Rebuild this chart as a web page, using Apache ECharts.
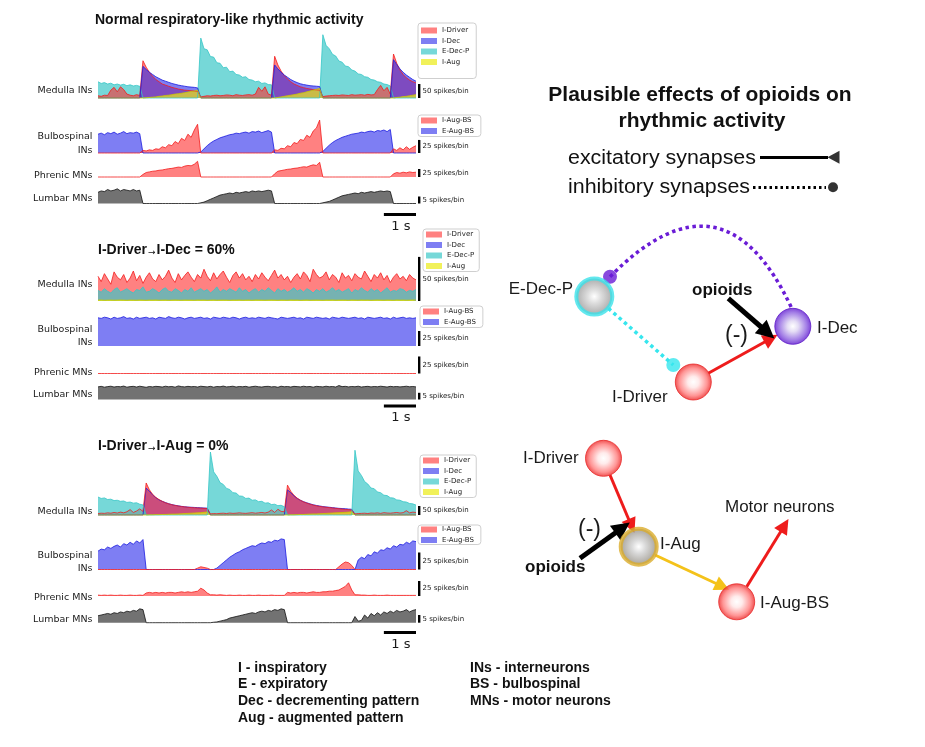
<!DOCTYPE html>
<html>
<head>
<meta charset="utf-8">
<script src="https://cdn.jsdelivr.net/npm/echarts@6/dist/echarts.min.js"></script>
<style>
  html, body { margin: 0; padding: 0; background: #fff; }
  #chart { width: 925px; height: 747px; }
</style>
</head>
<body>
<div id="chart"></div>
<script>
// spike counts per 0.1 s bin (100 bins per trace)
const BIN_S = 0.1;

// ---- panel 1: normal respiratory-like rhythm ----
const P1_EDECP = [
  58,52,55,50,53,47,50,46,49,44,
  47,43,45,42,0,0,0,0,0,0,
  0,0,0,0,0,0,0,0,0,0,
  0,0,214,176,172,148,146,126,124,108,
  110,94,96,84,82,74,76,66,64,58,
  60,52,54,48,47,0,0,0,0,0,
  0,0,0,0,0,0,0,0,0,0,
  226,188,176,156,150,132,128,114,112,100,
  96,86,84,76,74,66,64,58,56,50,
  48,43,0,0,0,0,0,0,0,0];
const P1_IDRIVER = [
  8,6,10,9,28,38,22,40,30,14,
  10,8,12,9,133,110,92,78,66,58,
  50,46,42,38,35,32,30,28,27,26,
  25,24,4,6,8,7,9,10,8,9,
  11,10,8,12,10,9,11,12,10,14,
  38,24,40,14,10,149,118,96,80,68,
  58,50,45,40,37,34,32,30,29,28,
  5,7,8,9,10,9,11,10,9,12,
  10,11,12,10,13,11,12,30,45,26,
  38,14,157,124,100,84,72,64,58,54];
const P1_IDEC = [
  0,0,0,0,0,0,0,0,0,0,
  0,0,0,0,113,102,92,84,76,70,
  64,60,56,52,49,46,44,42,40,39,
  38,36,0,0,0,0,0,0,0,0,
  0,0,0,0,0,0,0,0,0,0,
  0,0,0,0,0,118,104,92,82,74,
  66,60,55,51,48,46,44,43,42,41,
  0,0,0,0,0,0,0,0,0,0,
  0,0,0,0,0,0,0,0,0,0,
  0,0,137,120,104,92,82,74,66,60];
const P1_IAUG = [
  0,0,0,0,0,0,0,0,0,0,
  0,0,0,0,0,1,2,3,4,6,
  7,9,10,12,14,15,17,19,21,23,
  25,28,0,0,0,0,0,0,0,0,
  0,0,0,0,0,0,0,0,0,0,
  0,0,0,0,0,0,2,4,6,8,
  10,12,14,17,19,22,25,28,31,34,
  0,0,0,0,0,0,0,0,0,0,
  0,0,0,0,0,0,0,0,0,0,
  0,0,0,2,3,5,6,8,10,12];
const P1_EAUGBS = [
  36,38,35,39,37,40,36,38,41,37,
  39,38,40,37,0,0,0,0,0,0,
  0,0,0,0,0,0,0,0,0,0,
  0,0,2,8,14,19,23,26,29,31,
  33,35,36,38,37,39,40,38,41,40,
  42,39,41,43,40,0,0,0,0,0,
  0,0,0,0,0,0,0,0,0,0,
  3,9,15,20,24,27,30,32,34,36,
  37,38,40,39,41,42,40,43,42,44,
  41,45,0,0,0,0,0,0,0,0];
const P1_IAUGBS = [
  0,0,0,0,0,0,0,0,0,0,
  0,0,0,0,5,4,6,5,8,7,
  12,10,16,14,22,18,28,24,36,30,
  44,55,0,0,0,0,0,0,0,0,
  0,0,0,0,0,0,0,0,0,0,
  0,0,0,0,0,6,5,9,8,14,
  12,20,18,26,24,34,30,42,48,63,
  0,0,0,0,0,0,0,0,0,0,
  0,0,0,0,0,0,0,0,0,0,
  0,0,8,5,10,6,12,7,11,14];
const P1_PHRENIC = [
  0,0,0,0,0,0,0,0,0,0,
  0,0,0,0,8,14,16,18,19,21,
  22,24,26,27,29,31,30,34,36,35,
  40,49,0,0,0,0,0,0,0,0,
  0,0,0,0,0,0,0,0,0,0,
  0,0,0,0,0,10,18,20,22,24,
  25,27,28,30,32,31,35,38,36,46,
  0,0,0,0,0,0,0,0,0,0,
  0,0,0,0,0,0,0,0,0,0,
  0,0,10,14,12,15,13,16,14,15];
const P1_LUMBAR = [
  8,9,8.5,10,9,9.5,10.5,9,10,9.5,
  9,10,9,9.5,0,0,0,0,0,0,
  0,0,0,0,0,0,0,0,0,0,
  0,0,0.5,1,2,3,4,5,6,6.5,
  7,7.5,7,8,7.5,8,8.5,8,9,8.5,
  9,8.5,9,9.5,9,0,0,0,0,0,
  0,0,0,0,0,0,0,0,0,0,
  0.5,1,1.5,2.5,3.5,4.5,5.5,6,6.5,7,
  7.5,7,8,7.5,8,8.5,8,8.5,9,8.5,
  9,8.5,0,0,0,0,0,0,0,0];

// ---- panel 2: I-Driver -> I-Dec = 60% ----
const P2_IDRIVER = [
  28,22,31,25,19,33,27,24,30,21,
  26,34,23,29,20,27,32,25,22,30,
  24,28,35,26,21,31,24,29,33,27,
  22,30,26,36,28,23,32,25,30,34,
  27,21,29,33,26,31,24,28,22,30,
  25,32,27,23,29,35,26,30,24,28,
  21,27,31,25,33,29,22,36,30,26,
  28,33,24,30,27,21,32,26,29,23,
  31,27,25,34,28,22,30,26,32,24,
  29,21,27,31,25,28,23,30,26,24];
const P2_EDECP = [
  12,10,14,11,9,13,15,10,12,14,
  11,9,13,12,16,10,11,14,12,9,
  13,15,11,10,14,12,9,13,11,15,
  10,12,14,11,13,9,12,16,10,13,
  11,14,12,10,15,11,13,9,12,14,
  10,13,11,15,12,9,14,11,13,10,
  12,15,11,13,10,14,12,9,13,11,
  14,10,12,15,11,13,10,12,14,9,
  13,11,15,12,10,14,11,13,9,12,
  15,10,12,11,14,13,10,12,11,13];
const P2_IAUG = [
  1,1.2,0.8,1,1.1,0.9,1,1.2,1,0.8,
  1.1,1,0.9,1.2,1,0.8,1.1,1,1.2,0.9,
  1,1.1,0.8,1,1.2,1,0.9,1.1,1,1,
  0.9,1.2,1,1.1,0.8,1,1.2,0.9,1,1.1,
  1,0.8,1.1,1,1.2,0.9,1,1.1,0.8,1.2,
  1.1,1,0.9,1,1.2,1,0.8,1.1,1,0.9,
  1.2,1,1.1,0.8,1,1.2,0.9,1,1.1,1,
  0.8,1.1,1,1.2,0.9,1,1.1,1,0.8,1.2,
  1,0.9,1.2,1,1.1,0.8,1,1.2,1,0.9,
  1.1,1,0.8,1.2,1,1.1,0.9,1,1.2,1];
const P2_EAUGBS = [
  47,46,48,47,45,48,46,47,49,46,
  47,45,48,46,47,48,46,47,45,48,
  47,46,49,47,46,48,47,45,47,48,
  46,47,48,46,47,45,48,47,46,48,
  47,46,48,47,45,47,48,46,47,46,
  48,47,46,48,47,46,45,48,47,46,
  47,48,46,47,45,48,47,46,48,47,
  46,47,45,48,47,46,48,47,46,47,
  48,46,47,45,48,47,46,47,48,46,
  47,45,48,46,47,48,46,47,46,47];
const P2_PHRENIC = [
  0,0,0,0,0,0,0,0,0,0,
  0,0,0,0,0,0,0,0,0,0,
  0,0,0,0,0,0,0,0,0,0,
  0,0,0,0,0,0,0,0,0,0,
  0,0,0,0,0,0,0,0,0,0,
  0,0,0,0,0,0,0,0,0,0,
  0,0,0,0,0,0,0,0,0,0,
  0,0,0,0,0,0,0,0,0,0,
  0,0,0,0,0,0,0,0,0,0,
  0,0,0,0,0,0,0,0,0,0];
const P2_LUMBAR = [
  9.4,9.8,9.2,9.6,9.9,9.3,9.7,9.5,10.0,9.2,
  9.6,9.8,9.3,9.9,9.5,9.1,9.7,9.4,9.8,9.6,
  9.3,9.9,9.5,9.7,9.2,10.1,9.6,9.4,9.8,9.5,
  9.7,9.3,9.9,9.6,9.4,9.8,9.2,9.7,9.5,10.0,
  9.4,9.6,9.9,9.3,9.7,9.5,9.8,9.2,9.6,9.9,
  9.5,9.3,9.7,9.8,9.4,9.6,9.1,9.9,9.5,9.7,
  9.3,9.8,9.6,9.4,9.9,9.5,9.7,9.2,9.8,9.6,
  9.4,9.9,9.5,9.7,9.3,10.4,9.6,9.8,9.4,9.7,
  9.5,9.9,9.3,9.6,9.8,9.4,9.7,9.5,9.9,9.6,
  9.3,9.8,9.5,9.7,9.4,9.6,9.9,9.5,9.7,9.4];

// ---- panel 3: I-Driver -> I-Aug = 0% ----
const P3_EDECP = [
  100,92,95,86,88,80,82,76,78,70,
  72,66,68,60,56,0,0,0,0,0,
  0,0,0,0,0,0,0,0,0,0,
  0,0,0,0,0,350,240,215,180,170,
  148,142,124,122,106,104,92,94,82,84,
  74,76,66,68,58,60,52,54,46,0,
  0,0,0,0,0,0,0,0,0,0,
  0,0,0,0,0,0,0,0,0,0,
  360,245,220,186,172,150,146,128,124,110,
  108,96,94,84,82,74,72,64,62,55];
const P3_IDRIVER = [
  8,10,9,12,10,14,11,16,12,18,
  30,14,22,34,20,178,140,115,98,86,
  76,68,62,57,53,50,47,45,43,41,
  40,39,38,37,36,6,8,7,9,10,
  8,11,9,10,12,10,9,11,13,10,
  12,14,11,16,28,14,32,20,18,166,
  132,110,94,82,73,66,60,55,51,48,
  45,43,41,39,37,35,33,31,30,28,
  6,8,9,10,8,11,10,12,9,13,
  11,10,12,14,11,13,24,12,16,14];
const P3_IDEC = [
  0,0,0,0,0,0,0,0,0,0,
  0,0,0,0,0,150,132,112,96,84,
  76,69,63,58,54,51,48,46,44,43,
  42,41,40,39,38,0,0,0,0,0,
  0,0,0,0,0,0,0,0,0,0,
  0,0,0,0,0,0,0,0,0,140,
  124,106,92,82,74,68,62,57,53,50,
  47,45,43,41,39,37,36,35,33,32,
  0,0,0,0,0,0,0,0,0,0,
  0,0,0,0,0,0,0,0,0,0];
const P3_IAUG = [
  0,0,0,0,0,0,0,0,0,0,
  0,0,0,0,0,0,1,1,2,2,
  3,3,4,5,5,6,7,8,9,10,
  11,12,13,15,17,0,0,0,0,0,
  0,0,0,0,0,0,0,0,0,0,
  0,0,0,0,0,0,0,0,0,0,
  1,1,2,3,3,4,5,6,6,7,
  8,9,10,11,12,13,14,15,16,18,
  0,0,0,0,0,0,0,0,0,0,
  0,0,0,0,0,0,0,0,0,0];
const P3_EAUGBS = [
  27,30,29,33,31,34,36,33,38,36,
  40,37,42,39,44,0,0,0,0,0,
  0,0,0,0,0,0,0,0,0,0,
  0,0,0,0,0,0,0,2,6,10,
  14,18,21,24,26,29,31,33,35,34,
  37,39,38,41,40,43,42,45,44,0,
  0,0,0,0,0,0,0,0,0,0,
  0,0,0,0,0,0,0,0,0,0,
  0,14,18,16,22,20,26,24,29,28,
  32,30,35,33,37,36,40,38,42,41];
const P3_IAUGBS = [
  0,0,0,0,0,0,0,0,0,0,
  0,0,0,0,0,0,0,0,0,0,
  0,0,0,0,0,0,0,0,0,0,
  0,2,4,3,2,0,0,0,0,0,
  0,0,0,0,0,0,0,0,0,0,
  0,0,0,0,0,0,0,0,0,0,
  0,0,0,0,0,0,0,0,0,0,
  0,0,0,0,0,4,8,11,10,6,
  0,0,0,0,0,0,0,0,0,0,
  0,0,0,0,0,0,0,0,0,0];
const P3_PHRENIC = [
  1.5,1,1.5,1,1.5,1,1,1.5,1,1,
  1.5,1,1,1.5,1,5,6,5,6,5,
  6,5,6,6,5,6,7,6,7,6,
  7,8,13,10,5,2,2,1.5,2,1.5,
  1,1.5,1,1,1.5,1,1,1.5,1,1,
  1.5,1,1,1,1.5,1,1,1,1,6,
  5,6,5,6,6,5,6,7,6,6,
  7,7,8,8,9,10,13,16,22,10,
  2,2,1.5,1.5,1,1,1.5,1,1,1,
  1.5,1,1,1,1,1,1,1,1,1];
const P3_LUMBAR = [
  4.5,5,5.5,6,5.5,6.5,6,7,6.5,7.5,
  7,8,7.5,9,8.5,0,0,0,0,0,
  0,0,0,0,0,0,0,0,0,0,
  0,0,0,0,0,0,0.3,0.5,1,1.5,
  2,3,3.5,4,4.5,5,5.5,6,6.5,6,
  7,7.5,7,8,7.5,8.5,8,9,8.5,0,
  0,0,0,0,0,0,0,0,0,0,
  0,0,0,0,0,0,0,0,0,0,
  4,1,1.5,5,3,6,4.5,6.5,5,7,
  6,7.5,6.5,8,7,7.5,8.5,7,8,8.5];

const MEDULLA_NAMES = ["I-Driver", "I-Dec", "E-Dec-P", "I-Aug"];
const BULBO_NAMES = ["I-Aug-BS", "E-Aug-BS"];

// ---- network schematic (diagram units) ----
const NODES = [
  { name: "E-Dec-P", x: 104.3, y: 156.5, kind: "edecp" },
  { name: "I-Dec", x: 302.8, y: 186.3, kind: "idec" },
  { name: "I-Driver", x: 203.3, y: 242, kind: "red" },
  { name: "I-Driver", x: 113.5, y: 318.3, kind: "red" },
  { name: "I-Aug", x: 148.7, y: 406.7, kind: "iaug" },
  { name: "I-Aug-BS", x: 246.7, y: 461.8, kind: "red" },
];
const EXC_EDGES = [
  [218.3, 233.3, 281, 198.5, "#ee1c1c"],
  [120, 335, 141.5, 386, "#ee1c1c"],
  [165, 415, 232.5, 446.5, "#f4c21a"],
  [256.7, 446.7, 294.5, 385.5, "#ee1c1c"],
];
const OPIOID_EDGES = [
  [238.3, 158.3, 277.5, 192.5],
  [90, 418.3, 132.5, 387.8],
];
const INH_EDGES = [
  [118.3, 168.3, 183.3, 225, "#36e6ee", 0],
  [120, 136.7, 301.7, 168.3, "#6a1cd6", 0.72],
];
const INH_ENDS = [
  [183.3, 225, "#36e6ee"],
  [120, 136.7, "#6a1cd6"],
];

// ---------------- layout ----------------
const TRACE_LEFT = 98, TRACE_WIDTH = 318, T_MAX = 9.9;
const PX_PER_S = TRACE_WIDTH / T_MAX;
const TRACE_GRIDS = [
  { top: 28, h: 70, max: 250, bar: 50 },
  { top: 118, h: 35, max: 67, bar: 25 },
  { top: 157, h: 20, max: 62.5, bar: 25 },
  { top: 183.5, h: 20, max: 14.3, bar: 5 },
  { top: 256, h: 45, max: 51, bar: 50 },
  { top: 310, h: 36, max: 60, bar: 25 },
  { top: 356, h: 17.5, max: 25.7, bar: 25 },
  { top: 383, h: 16.5, max: 12.3, bar: 5 },
  { top: 447, h: 68, max: 378, bar: 50 },
  { top: 535, h: 34.5, max: 50.7, bar: 25 },
  { top: 579, h: 17, max: 28.3, bar: 25 },
  { top: 605, h: 17.7, max: 11.5, bar: 5 },
];
const DIAG = TRACE_GRIDS.length;

const COLORS = {
  "I-Driver": ["rgba(255,45,45,0.6)", "#f21c1c"],
  "I-Dec": ["rgba(40,40,235,0.6)", "#1a1ae0"],
  "E-Dec-P": ["rgba(60,200,200,0.7)", "#35c6c6"],
  "I-Aug": ["rgba(235,235,20,0.7)", "#c8c800"],
  "I-Aug-BS": ["rgba(255,45,45,0.6)", "#f21c1c"],
  "E-Aug-BS": ["rgba(40,40,235,0.6)", "#1a1ae0"],
  Phrenic: ["rgba(255,45,45,0.6)", "#f21c1c"],
  Lumbar: ["rgba(20,20,20,0.6)", "#111111"],
};

const series = [];
function trace(name, gi, vals) {
  const [fill, stroke] = COLORS[name];
  series.push({
    type: "line",
    name,
    xAxisIndex: gi,
    yAxisIndex: gi,
    symbol: "none",
    silent: true,
    clip: false,
    data: vals.map((v, i) => [Math.round(i * BIN_S * 10) / 10, v]),
    lineStyle: { color: stroke, width: 0.8 },
    areaStyle: { color: fill, opacity: 1 },
    itemStyle: { color: fill },
  });
}

trace("E-Dec-P", 0, P1_EDECP);
trace("I-Driver", 0, P1_IDRIVER);
trace("I-Dec", 0, P1_IDEC);
trace("I-Aug", 0, P1_IAUG);
trace("E-Aug-BS", 1, P1_EAUGBS);
trace("I-Aug-BS", 1, P1_IAUGBS);
trace("Phrenic", 2, P1_PHRENIC);
trace("Lumbar", 3, P1_LUMBAR);

trace("I-Driver", 4, P2_IDRIVER);
trace("E-Dec-P", 4, P2_EDECP);
trace("I-Aug", 4, P2_IAUG);
trace("E-Aug-BS", 5, P2_EAUGBS);
trace("Phrenic", 6, P2_PHRENIC);
trace("Lumbar", 7, P2_LUMBAR);

trace("I-Dec", 8, P3_IDEC);
trace("I-Driver", 8, P3_IDRIVER);
trace("E-Dec-P", 8, P3_EDECP);
trace("I-Aug", 8, P3_IAUG);
trace("E-Aug-BS", 9, P3_EAUGBS);
trace("I-Aug-BS", 9, P3_IAUGBS);
trace("Phrenic", 10, P3_PHRENIC);
trace("Lumbar", 11, P3_LUMBAR);

// ---- schematic series ----
function radial(stops) {
  return { type: "radial", x: 0.5, y: 0.5, r: 0.5, colorStops: stops.map(([o, c]) => ({ offset: o, color: c })) };
}
const NODE_STYLE = {
  red: { color: radial([[0, "#ffffff"], [0.3, "#ffe6e6"], [0.75, "#ff7a7a"], [1, "#ea2020"]]), borderColor: "#e82a2a", borderWidth: 1 },
  idec: { color: radial([[0, "#ffffff"], [0.3, "#ddd3f2"], [0.75, "#8c5ee0"], [1, "#5a12cc"]]), borderColor: "#5c18c8", borderWidth: 1 },
  edecp: { color: radial([[0, "#ffffff"], [0.35, "#d4d4d4"], [1, "#8e8e8e"]]), borderColor: "#3ce2ea", borderWidth: 4 },
  iaug: { color: radial([[0, "#ffffff"], [0.35, "#cfcfcf"], [1, "#8a8478"]]), borderColor: "#dbad2c", borderWidth: 4 },
};
const diagAxes = { xAxisIndex: DIAG, yAxisIndex: DIAG, silent: true };

series.push({
  type: "lines", coordinateSystem: "cartesian2d", ...diagAxes, z: 3,
  symbol: ["none", "triangle"], symbolSize: 15,
  data: EXC_EDGES.map(([x1, y1, x2, y2, c]) => ({ coords: [[x1, y1], [x2, y2]], lineStyle: { color: c, width: 3 }, itemStyle: { color: c } })),
  lineStyle: { width: 3, opacity: 1 },
});
series.push({
  type: "lines", coordinateSystem: "cartesian2d", ...diagAxes, z: 3,
  symbol: ["none", "triangle"], symbolSize: 18,
  data: OPIOID_EDGES.map(([x1, y1, x2, y2]) => ({ coords: [[x1, y1], [x2, y2]] })),
  lineStyle: { width: 5, color: "#000", opacity: 1 },
});
series.push({
  type: "lines", coordinateSystem: "cartesian2d", ...diagAxes, z: 3,
  symbol: "none",
  data: INH_EDGES.map(([x1, y1, x2, y2, c, cv]) => ({ coords: [[x1, y1], [x2, y2]], lineStyle: { color: c, curveness: cv } })),
  lineStyle: { width: 3.5, type: [3.5, 3.5], opacity: 1 },
});
// synapse legend lines
series.push({
  type: "lines", coordinateSystem: "cartesian2d", ...diagAxes, z: 3, symbol: "none",
  data: [
    { coords: [[270, 17.3], [338, 17.3]], lineStyle: { type: "solid" } },
    { coords: [[263, 47.3], [336, 47.3]], lineStyle: { type: [2.5, 3] } },
  ],
  lineStyle: { width: 3, color: "#000", opacity: 1 },
});
series.push({
  type: "scatter", ...diagAxes, z: 4,
  data: [
    ...INH_ENDS.map(([x, y, c]) => ({ value: [x, y], symbolSize: 14, itemStyle: { color: c } })),
    { value: [343, 47.3], symbolSize: 10, itemStyle: { color: "#000" } },
    { value: [343.5, 17.3], symbol: "triangle", symbolRotate: 90, symbolSize: [13, 12], itemStyle: { color: "#000" } },
  ],
});
series.push({
  type: "scatter", ...diagAxes, z: 5, symbolSize: 36,
  data: NODES.map((n) => ({ value: [n.x, n.y], itemStyle: NODE_STYLE[n.kind] })),
});

// ---- grids / axes ----
const grid = TRACE_GRIDS.map((g) => ({ left: TRACE_LEFT, width: TRACE_WIDTH, top: g.top, height: g.h }));
grid.push({ left: 490, top: 140, width: 400, height: 500 });
const xAxis = TRACE_GRIDS.map((g, i) => ({ type: "value", gridIndex: i, min: 0, max: T_MAX, show: false }));
xAxis.push({ type: "value", gridIndex: DIAG, min: 0, max: 400, show: false });
const yAxis = TRACE_GRIDS.map((g, i) => ({ type: "value", gridIndex: i, min: 0, max: g.max, show: false }));
yAxis.push({ type: "value", gridIndex: DIAG, min: 0, max: 500, inverse: true, show: false });

// ---- legends ----
function legendBox(names, left, top, padding) {
  return {
    orient: "vertical", left, top, padding, data: names, icon: "rect",
    itemWidth: 16, itemHeight: 6, itemGap: 3.5, selectedMode: false,
    borderColor: "#cfcfcf", borderWidth: 1, borderRadius: 3, backgroundColor: "#fff",
    textStyle: { fontSize: 7, fontFamily: "DejaVu Sans", color: "#222" },
  };
}
const legend = [
  legendBox(MEDULLA_NAMES, 418, 23, [4, 7, 13, 3]),
  legendBox(BULBO_NAMES, 418, 115, [2, 7, 2, 3]),
  legendBox(MEDULLA_NAMES, 423, 229, [2, 5, 2, 3]),
  legendBox(BULBO_NAMES, 420, 306, [2, 7, 2, 3]),
  legendBox(MEDULLA_NAMES, 420, 455, [2, 5, 2, 3]),
  legendBox(BULBO_NAMES, 418, 525, [1, 7, 1, 3]),
];

// ---- text / scale bars ----
const graphic = [];
function txt(x, y, text, size, o = {}) {
  graphic.push({
    type: "text", x, y, silent: true, scaleX: o.sx || 1, z: 10,
    style: {
      text, fontSize: size, fontFamily: o.family || "Liberation Sans", fontWeight: o.bold ? "bold" : "normal",
      fill: o.color || "#1a1a1a", align: o.align || "left", textAlign: o.align || "left",
      verticalAlign: "middle", textVerticalAlign: "middle", rich: o.rich,
    },
  });
}

TRACE_GRIDS.forEach((g) => {
  const hb = (g.bar / g.max) * g.h;
  const base = g.top + g.h;
  graphic.push({ type: "rect", silent: true, shape: { x: 418, y: base - hb, width: 2.4, height: hb }, style: { fill: "#000" } });
  txt(422.5, base - hb / 2, g.bar + " spikes/bin", 7, { family: "DejaVu Sans" });
});
[214.5, 406, 632.5].forEach((y) => {
  const x1 = TRACE_LEFT + TRACE_WIDTH - PX_PER_S;
  graphic.push({ type: "rect", silent: true, shape: { x: x1, y: y - 1.4, width: PX_PER_S, height: 2.8 }, style: { fill: "#000" } });
  txt(x1 + PX_PER_S / 2 + 1, y + 12, "1 s", 13, { family: "DejaVu Sans", align: "center" });
});

const ROW_LABELS = [
  ["Medulla INs", 91], ["Bulbospinal", 137], ["INs", 150.5], ["Phrenic MNs", 175.5], ["Lumbar MNs", 199],
  ["Medulla INs", 285], ["Bulbospinal", 330], ["INs", 343], ["Phrenic MNs", 372.5], ["Lumbar MNs", 395],
  ["Medulla INs", 511.5], ["Bulbospinal", 556], ["INs", 569], ["Phrenic MNs", 597.5], ["Lumbar MNs", 620],
];
ROW_LABELS.forEach(([t, y]) => txt(92.5, y, t, 9.5, { family: "DejaVu Sans", align: "right" }));

txt(95, 20, "Normal respiratory-like rhythmic activity", 14, { bold: true, color: "#111" });
const arrowRich = {
  a: { fontSize: 14, fontWeight: "bold", fontFamily: "Liberation Sans", fill: "#111" },
  b: { fontSize: 9, fontFamily: "DejaVu Sans", fill: "#111", padding: [5, 1, 0, 1] },
};
txt(98, 250, "{a|I-Driver}{b|→}{a|I-Dec = 60%}", 14, { rich: arrowRich });
txt(98, 446.5, "{a|I-Driver}{b|→}{a|I-Aug = 0%}", 14, { rich: arrowRich });

txt(700, 95, "Plausible effects of opioids on", 21, { bold: true, align: "center", color: "#111" });
txt(702, 121, "rhythmic activity", 21, { bold: true, align: "center", color: "#111" });
txt(568, 158, "excitatory synapses", 20, { color: "#111", sx: 1.07 });
txt(568, 187.5, "inhibitory synapses", 20, { color: "#111", sx: 1.07 });

txt(573, 289, "E-Dec-P", 17, { align: "right" });
txt(817, 328, "I-Dec", 17);
txt(612, 397, "I-Driver", 17);
txt(692, 290, "opioids", 17, { bold: true, color: "#111" });
txt(725, 336, "(-)", 23);
txt(523, 458, "I-Driver", 17);
txt(660, 544, "I-Aug", 17);
txt(760, 603.5, "I-Aug-BS", 17);
txt(725, 507.5, "Motor neurons", 17);
txt(578, 530, "(-)", 23);
txt(525, 567, "opioids", 17, { bold: true, color: "#111" });

[["I - inspiratory", 668], ["E - expiratory", 684.5], ["Dec - decrementing pattern", 701], ["Aug - augmented pattern", 718]]
  .forEach(([t, y]) => txt(238, y, t, 14, { bold: true, color: "#111" }));
[["INs - interneurons", 668], ["BS - bulbospinal", 684.5], ["MNs - motor neurons", 701]]
  .forEach(([t, y]) => txt(470, y, t, 14, { bold: true, color: "#111" }));

const chart = echarts.init(document.getElementById("chart"));
chart.setOption({
  animation: false,
  backgroundColor: "#fff",
  grid, xAxis, yAxis, legend, series, graphic,
});
</script>
</body>
</html>
